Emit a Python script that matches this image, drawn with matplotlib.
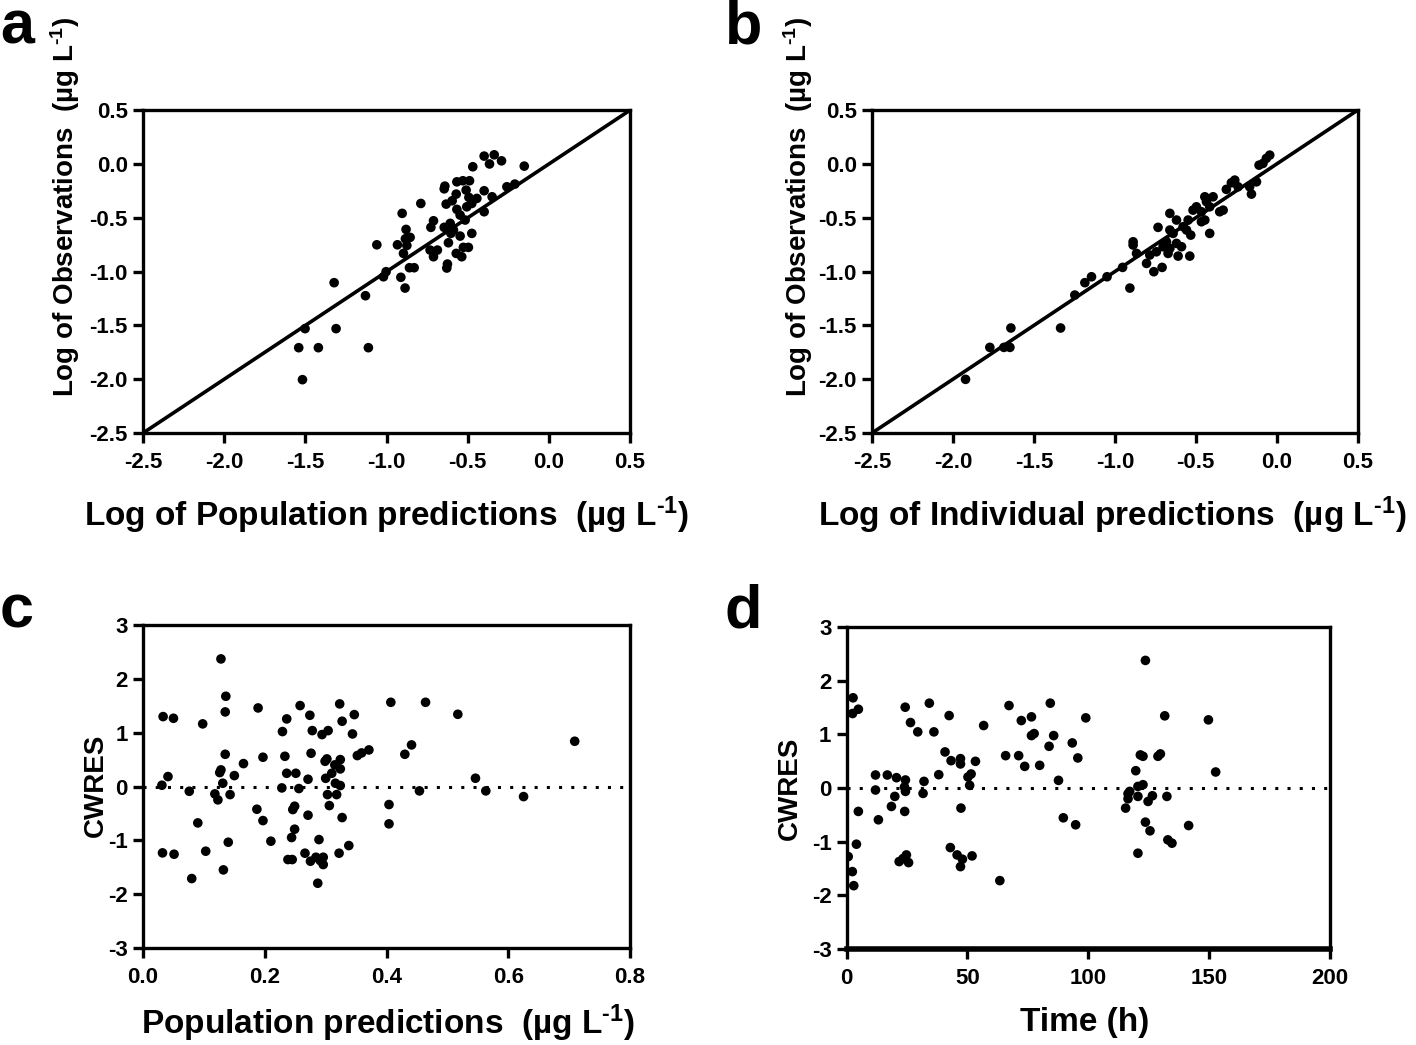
import numpy as np
import matplotlib
matplotlib.use('Agg')
import matplotlib.pyplot as plt

plt.rcParams['font.family'] = ['Liberation Sans', 'DejaVu Sans']
plt.rcParams['font.weight'] = 'bold'
plt.rcParams['axes.unicode_minus'] = False
plt.rcParams['mathtext.fontset'] = 'custom'
plt.rcParams['mathtext.rm'] = 'Liberation Sans:bold'
plt.rcParams['mathtext.bf'] = 'Liberation Sans:bold'
plt.rcParams['mathtext.default'] = 'regular'

# panel a: log observations vs log population predictions
a_pred = [-0.399, -0.337, -0.366, -0.292, -0.469, -0.152, -0.641, -0.645, -0.567, -0.530,
          -0.489, -0.399, -0.259, -0.210, -0.571, -0.510, -0.633, -0.596, -0.493, -0.444,
          -0.350, -0.567, -0.506, -0.475, -0.399, -0.789, -0.904, -0.711, -0.727, -0.645,
          -0.608, -0.516, -0.547, -0.588, -0.604, -0.547, -0.475, -0.880, -0.884, -0.855,
          -0.933, -0.875, -0.896, -1.060, -0.732, -0.687, -0.711, -0.619, -0.571, -0.537,
          -0.527, -0.496, -0.625, -0.629, -0.859, -0.830, -1.003, -1.019, -0.912, -0.886,
          -1.323, -1.130, -1.502, -1.311, -1.541, -1.420, -1.112, -1.518]
a_obs = [0.073, 0.085, 0.000, 0.029, -0.026, -0.020, -0.206, -0.231, -0.166, -0.156,
         -0.156, -0.249, -0.212, -0.187, -0.280, -0.243, -0.373, -0.342, -0.311, -0.320,
         -0.305, -0.422, -0.398, -0.367, -0.444, -0.367, -0.459, -0.528, -0.589, -0.589,
         -0.552, -0.521, -0.475, -0.614, -0.645, -0.670, -0.645, -0.608, -0.695, -0.682,
         -0.751, -0.757, -0.831, -0.751, -0.800, -0.800, -0.862, -0.732, -0.831, -0.862,
         -0.775, -0.775, -0.930, -0.967, -0.964, -0.964, -1.001, -1.048, -1.053, -1.153,
         -1.103, -1.224, -1.530, -1.530, -1.707, -1.707, -1.707, -2.004]

# panel b: log observations vs log individual predictions
b_pred = [-1.922, -1.772, -1.685, -1.648, -1.642, -1.335,
          -0.043, -0.064, -0.109, -0.085, -0.259, -0.280, -0.239, -0.311, -0.167, -0.125,
          -0.156, -0.393, -0.444, -0.434, -0.414, -0.496, -0.517, -0.465, -0.331, -0.352,
          -0.660, -0.547, -0.619, -0.465, -0.444, -0.660, -0.640, -0.578, -0.557, -0.733,
          -0.531, -0.414, -0.887, -0.887, -0.681, -0.702, -0.660, -0.619, -0.588, -0.743,
          -0.671, -0.609, -0.537, -0.784, -0.866, -0.804, -0.708, -0.759, -0.952, -1.048,
          -1.144, -1.185, -1.247, -0.907]
b_obs = [-2.001, -1.704, -1.704, -1.704, -1.524, -1.524,
         0.082, 0.052, -0.011, 0.005, -0.150, -0.175, -0.212, -0.236, -0.212, -0.166,
         -0.280, -0.305, -0.305, -0.351, -0.398, -0.398, -0.429, -0.444, -0.429, -0.444,
         -0.459, -0.521, -0.521, -0.537, -0.521, -0.614, -0.645, -0.583, -0.614, -0.589,
         -0.661, -0.645, -0.723, -0.753, -0.723, -0.769, -0.784, -0.738, -0.769, -0.816,
         -0.831, -0.856, -0.856, -0.846, -0.831, -0.924, -0.961, -1.001, -0.961, -1.048,
         -1.048, -1.103, -1.218, -1.153]

# panel c: CWRES vs population predictions
c_pred = [0.128, 0.136, 0.135, 0.033, 0.050, 0.098, 0.189, 0.258, 0.323, 0.236,
          0.274, 0.327, 0.347, 0.229, 0.278, 0.294, 0.304, 0.344, 0.135, 0.197,
          0.233, 0.276, 0.165, 0.299, 0.302, 0.324, 0.315, 0.352, 0.359, 0.371,
          0.128, 0.126, 0.150, 0.041, 0.236, 0.251, 0.271, 0.300, 0.310, 0.324,
          0.131, 0.316, 0.324, 0.031, 0.228, 0.256, 0.076, 0.118, 0.143, 0.123,
          0.303, 0.318, 0.306, 0.187, 0.246, 0.249, 0.271, 0.327, 0.197, 0.090,
          0.249, 0.244, 0.289, 0.210, 0.140, 0.338, 0.103, 0.032, 0.051, 0.266,
          0.322, 0.238, 0.245, 0.275, 0.284, 0.296, 0.296, 0.291, 0.132, 0.080,
          0.287, 0.407, 0.464, 0.517, 0.430, 0.441, 0.709, 0.546, 0.454, 0.563,
          0.625, 0.404, 0.404]
c_cwres = [2.372, 1.678, 1.387, 1.300, 1.269, 1.165, 1.461, 1.505, 1.536, 1.257,
           1.325, 1.214, 1.337, 1.022, 1.040, 0.966, 1.040, 0.978, 0.600, 0.545,
           0.563, 0.619, 0.427, 0.470, 0.514, 0.501, 0.403, 0.576, 0.625, 0.681,
           0.310, 0.260, 0.204, 0.186, 0.247, 0.247, 0.136, 0.154, 0.247, 0.328,
           0.062, 0.062, 0.019, 0.025, -0.025, -0.037, -0.087, -0.136, -0.149, -0.247,
           -0.149, -0.149, -0.353, -0.421, -0.427, -0.365, -0.532, -0.576, -0.632, -0.675,
           -0.792, -0.947, -0.985, -1.015, -1.034, -1.096, -1.201, -1.232, -1.257, -1.238,
           -1.238, -1.356, -1.356, -1.387, -1.313, -1.313, -1.449, -1.375, -1.548, -1.709,
           -1.796, 1.566, 1.566, 1.343, 0.600, 0.774, 0.842, 0.155, -0.080, -0.080,
           -0.186, -0.334, -0.693]

# panel d: CWRES vs time
d_time = [2.6, 2.4, 4.8, 24.2, 34.2, 26.4, 29.4, 36.1, 42.4, 56.7,
          67.2, 72.3, 76.5, 84.3, 99.0, 76.5, 77.6, 85.7, 83.8, 93.4,
          95.7, 65.8, 71.2, 73.7, 79.9, 87.7, 40.7, 43.2, 47.1, 47.1,
          53.3, 38.1, 50.2, 51.5, 50.9, 11.9, 16.8, 20.6, 24.3, 32.0,
          23.9, 11.9, 24.3, 31.6, 19.9, 18.5, 47.3, 24.0, 4.8, 13.1,
          89.7, 94.8, 4.0, 42.9, 45.7, 47.9, 47.1, 51.9, 24.7, 21.7,
          25.6, 23.3, 0.6, 2.3, 2.9, 63.4,
          123.7, 131.7, 149.8, 121.6, 122.7, 128.9, 129.9, 119.7, 152.8, 122.7,
          120.6, 117.2, 116.5, 120.6, 116.5, 126.6, 132.6, 124.8, 115.5, 123.7,
          125.6, 141.6, 133.0, 134.7, 120.6]
d_cwres = [1.682, 1.389, 1.469, 1.507, 1.582, 1.221, 1.047, 1.047, 1.351, 1.165,
           1.538, 1.258, 1.327, 1.582, 1.308, 0.978, 1.015, 0.978, 0.778, 0.841,
           0.561, 0.604, 0.604, 0.404, 0.423, 0.143, 0.673, 0.510, 0.548, 0.449,
           0.498, 0.249, 0.206, 0.262, 0.050, 0.243, 0.243, 0.193, 0.150, 0.124,
           0.019, -0.037, -0.063, -0.100, -0.156, -0.343, -0.374, -0.436, -0.436, -0.592,
           -0.555, -0.685, -1.047, -1.110, -1.247, -1.327, -1.465, -1.265, -1.247, -1.371,
           -1.390, -1.315, -1.278, -1.558, -1.820, -1.726,
           2.379, 1.346, 1.271, 0.617, 0.592, 0.592, 0.636, 0.323, 0.299, 0.062,
           0.030, -0.063, -0.106, -0.156, -0.200, -0.144, -0.156, -0.250, -0.374, -0.636,
           -0.798, -0.699, -0.966, -1.028, -1.215]

unit = r'(µg L$^{\text{-1}}$)'
log_ticks = [-2.5, -2.0, -1.5, -1.0, -0.5, 0.0, 0.5]
XLABEL_FS = 24
YLABEL_FS = 20
TICK_FS = 16


def style_axes(ax):
    for s in ax.spines.values():
        s.set_linewidth(2.4)
    ax.tick_params(direction='out', length=7, width=2.4, labelsize=TICK_FS, pad=4)
    ax.tick_params(axis='x', pad=7)
    for lab in ax.get_xticklabels() + ax.get_yticklabels():
        lab.set_fontweight('bold')


fig = plt.figure(figsize=(14.16, 10.45), dpi=100)

ax_a = fig.add_axes([0.101, 0.5856, 0.344, 0.309])
ax_b = fig.add_axes([0.6158, 0.5856, 0.343, 0.309])
ax_c = fig.add_axes([0.101, 0.0928, 0.344, 0.309])
ax_d = fig.add_axes([0.598, 0.0919, 0.341, 0.308])

panels_top = [(ax_a, a_pred, a_obs, 'Log of Population predictions  ' + unit, 0.50, -0.125),
              (ax_b, b_pred, b_obs, 'Log of Individual predictions  ' + unit, 0.494, -0.117)]
for ax, xp, yo, xl, xlx, ylx in panels_top:
    ax.plot([-2.5, 0.5], [-2.5, 0.5], color='black', lw=2.6, zorder=2)
    ax.scatter(xp, yo, s=48, color='black', edgecolors='none', zorder=3)
    ax.set_xlim(-2.5, 0.5)
    ax.set_ylim(-2.5, 0.5)
    ax.set_xticks(log_ticks)
    ax.set_yticks(log_ticks)
    ax.set_xticklabels(['%.1f' % t for t in log_ticks])
    ax.set_yticklabels(['%.1f' % t for t in log_ticks])
    style_axes(ax)
    ax.set_xlabel(xl, fontsize=XLABEL_FS, fontweight='bold')
    ax.set_ylabel('Log of Observations  ' + unit, fontsize=YLABEL_FS, fontweight='bold')
    ax.xaxis.set_label_coords(xlx, -0.19)
    ax.yaxis.set_label_coords(ylx, 0.70)

ax_c.axhline(0, color='black', lw=2.2, ls=(0, (1, 3)), zorder=1)
ax_c.scatter(c_pred, c_cwres, s=48, color='black', edgecolors='none', zorder=3)
ax_c.set_xlim(0, 0.8)
ax_c.set_ylim(-3, 3)
ax_c.set_xticks([0.0, 0.2, 0.4, 0.6, 0.8])
ax_c.set_xticklabels(['0.0', '0.2', '0.4', '0.6', '0.8'])
ax_c.set_yticks(range(-3, 4))
style_axes(ax_c)
ax_c.set_xlabel('Population predictions  ' + unit, fontsize=XLABEL_FS, fontweight='bold')
ax_c.set_ylabel('CWRES', fontsize=YLABEL_FS, fontweight='bold')
ax_c.xaxis.set_label_coords(0.503, -0.17)
ax_c.yaxis.set_label_coords(-0.07, 0.505)

ax_d.axhline(0, color='black', lw=2.2, ls=(0, (1, 3)), zorder=1)
ax_d.scatter(d_time, d_cwres, s=48, color='black', edgecolors='none', zorder=3)
ax_d.set_xlim(0, 200)
ax_d.set_ylim(-3, 3)
ax_d.set_xticks([0, 50, 100, 150, 200])
ax_d.set_yticks(range(-3, 4))
style_axes(ax_d)
ax_d.spines['bottom'].set_linewidth(4)
ax_d.set_xlabel('Time (h)', fontsize=XLABEL_FS, fontweight='bold')
ax_d.set_ylabel('CWRES', fontsize=YLABEL_FS, fontweight='bold')
ax_d.xaxis.set_label_coords(0.493, -0.18)
ax_d.yaxis.set_label_coords(-0.09, 0.50)

for x, y, letter in [(0.0, 0.958, 'a'), (0.512, 0.958, 'b'), (0.0, 0.40, 'c'), (0.512, 0.40, 'd')]:
    fig.text(x, y, letter, fontsize=44, fontweight='bold')

fig.savefig('out.png', dpi=100)
